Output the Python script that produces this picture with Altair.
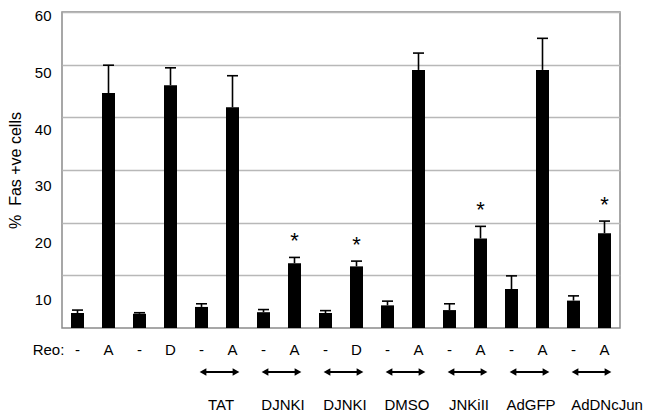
import altair as alt
import pandas as pd

# ---- data ----
reo = ["-", "A", "-", "D", "-", "A", "-", "A", "-", "D",
       "-", "A", "-", "A", "-", "A", "-", "A"]
means = [2.85, 44.6, 2.7, 46.1, 4.0, 41.9, 3.0, 12.3, 2.85, 11.7,
         4.3, 49.0, 3.4, 17.0, 7.4, 49.0, 5.2, 18.0]
sds = [0.55, 5.3, 0.2, 3.3, 0.6, 6.0, 0.5, 1.1, 0.45, 1.0,
       0.8, 3.2, 1.2, 2.3, 2.5, 6.0, 0.9, 2.3]
starred = [0, 0, 0, 0, 0, 0, 0, 1, 0, 1, 0, 0, 0, 1, 0, 0, 0, 1]
pair_names = ["", "", "TAT", "DJNKI", "DJNKI", "DMSO", "JNKiII", "AdGFP", "AdDNcJun"]
y_ticks = [10, 20, 30, 40, 50, 60]

FONT = "Liberation Sans"

bars_df = pd.DataFrame({
    "key": [f"{i:02d}{r}" for i, r in enumerate(reo)],
    "mean": means,
    "top": [m + s for m, s in zip(means, sds)],
    "star": ["*" if s else "" for s in starred],
})
pair_keys = [f"p{i}" for i in range(len(pair_names))]
pairs_df = pd.DataFrame({
    "pair": pair_keys,
    "name": pair_names,
    "has_arrow": [n != "" for n in pair_names],
})

xbar = alt.X(
    "key:O",
    scale=alt.Scale(paddingInner=0, paddingOuter=0),
    axis=alt.Axis(
        labelExpr="substring(datum.label, 2)", labelAngle=0, domain=False,
        ticks=False, tickSize=0, labelPadding=21, labelBaseline="middle",
        labelFontSize=15, labelFont=FONT, labelColor="black",
        title="Reo:", titleX=-14, titleY=21, titleAlign="center",
        titleBaseline="middle", titleFontSize=15, titleFont=FONT,
        titleFontWeight="normal", titleColor="black",
    ),
)
yscale = alt.Scale(domain=[0, 60], nice=False)
yenc = alt.Y(
    "mean:Q", scale=yscale,
    axis=alt.Axis(
        values=y_ticks, grid=True, gridColor="#b8b8b8", gridWidth=1.3,
        domain=False, ticks=False, tickSize=0, labelPadding=11,
        labelFontSize=15, labelFont=FONT, labelColor="black",
        labelOffset={"expr": "3.5 + (60 - datum.value) * 0.41"},
        title="%\u00a0\u00a0Fas +ve cells", titleFontSize=16, titleFont=FONT,
        titleFontWeight="normal", titleColor="black", titlePadding=11,
    ),
)

base = alt.Chart(bars_df)
bars = base.mark_bar(size=13, color="black").encode(x=xbar, y=yenc)
err = base.mark_rule(color="black", strokeWidth=1.6).encode(
    x=alt.X("key:O"), y=alt.Y("mean:Q"), y2="top:Q")
caps = base.mark_tick(color="black", size=11, thickness=1.6, opacity=1).encode(
    x=alt.X("key:O"), y=alt.Y("top:Q"))
stars = base.mark_text(fontSize=22, font=FONT, color="black", baseline="alphabetic", dy=-9).encode(
    x=alt.X("key:O"), y=alt.Y("top:Q"), text="star:N")
bar_group = alt.layer(bars, err, caps, stars)

pair_label_expr = "[" + ",".join(f"'{n}'" for n in pair_names) + "][indexof(" + \
    "[" + ",".join(f"'{k}'" for k in pair_keys) + "], datum.value)]"

xpair = alt.X(
    "pair:O",
    scale=alt.Scale(domain=pair_keys, paddingInner=0, paddingOuter=0),
    axis=alt.Axis(
        orient="bottom", labelExpr=pair_label_expr, labelAngle=0,
        domain=False, ticks=False, tickSize=0, labelPadding=76,
        labelBaseline="middle", labelFontSize=15, labelFont=FONT,
        labelColor="black", title=None,
        labelOffset={"expr": "datum.value == 'p8' ? 18 : 4"},
    ),
)

pbase = alt.Chart(pairs_df).transform_filter("datum.has_arrow")
shaft = pbase.mark_tick(orient="horizontal", size=30, thickness=2, color="black", xOffset=2.5, opacity=1).encode(
    x=xpair, y=alt.value(360))
head_l = pbase.mark_point(shape="triangle-left", filled=True, size=60, color="black", opacity=1, xOffset=-14).encode(
    x=alt.X("pair:O"), y=alt.value(360))
head_r = pbase.mark_point(shape="triangle-right", filled=True, size=60, color="black", opacity=1, xOffset=19).encode(
    x=alt.X("pair:O"), y=alt.value(360))
pair_group = alt.layer(shaft, head_l, head_r)

chart = alt.layer(bar_group, pair_group).resolve_scale(x="independent").properties(
    width=558, height=316,
    autosize=alt.AutoSizeParams(type="none"),
    padding={"left": 54, "top": 4, "right": 24, "bottom": 86},
).configure(font=FONT).configure_view(stroke="#8a8a8a", strokeWidth=1.5)

chart.save("out.html", embed_options={"renderer": "svg", "actions": False})
